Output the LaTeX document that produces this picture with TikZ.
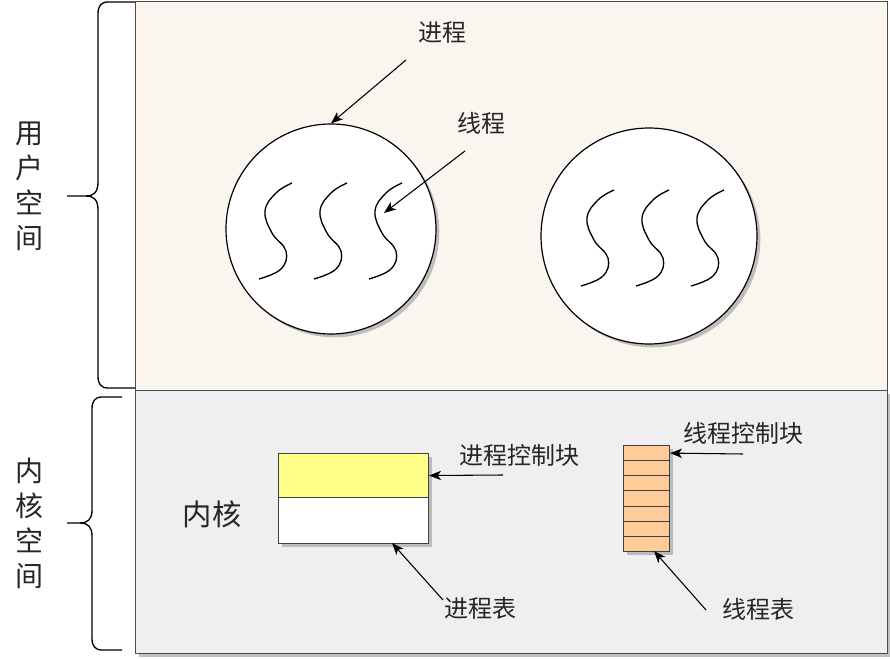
\documentclass[tikz,border=0pt]{standalone}
\usepackage{fontspec}
\newfontfamily\cjk{Noto Sans CJK SC}
\usetikzlibrary{arrows.meta,shadows}
\definecolor{userbg}{HTML}{FAF5EE}
\definecolor{kernbg}{HTML}{EFEEF0}
\definecolor{pcbyellow}{HTML}{FFFF88}
\definecolor{tcbpeach}{HTML}{FFCC99}
\begin{document}
\begin{tikzpicture}[x=0.75pt,y=-0.75pt,
  region/.style={draw=black!70, line width=0.8pt},
  shadowed/.style={drop shadow={shadow xshift=2.5pt,shadow yshift=-2.5pt,fill=black!40,opacity=0.6}},
  lbl/.style={font=\cjk\fontsize{18pt}{20pt}\selectfont, text=black!85, inner sep=0pt},
  biglbl/.style={font=\cjk\fontsize{21pt}{26.25pt}\selectfont, text=black!85, inner sep=0pt, align=center},
  arr/.style={-{Stealth[length=9pt,width=7pt,inset=2.5pt]}, line width=0.8pt},
  brace/.style={line width=1pt},
  wave/.style={line width=1pt},
  cell/.style={draw=black!75, line width=0.8pt, rectangle, inner sep=0pt, anchor=north west}
]
\useasboundingbox (0,0) rectangle (890,659);
\fill[white] (0,0) rectangle (890,659);

% regions
\node[region, fill=userbg, rectangle, inner sep=0pt, anchor=north west,
      minimum width=564pt, minimum height=291.75pt] (user) at (135,1) {};
\node[region, fill=kernbg, rectangle, inner sep=0pt, anchor=north west, shadowed,
      minimum width=564pt, minimum height=197.25pt] (kern) at (135,390) {};

% braces
\draw[brace] (135,2) -- (108,2) .. controls (101,2) and (98,6) .. (98,14) -- (98,182)
  .. controls (98,192) and (94,196) .. (86,196) -- (67,196);
\draw[brace] (86,196) .. controls (94,196) and (98,200) .. (98,210) -- (98,376)
  .. controls (98,384) and (101,388) .. (108,388) -- (135,388);
\draw[brace] (122,397) -- (102,397) .. controls (95,397) and (92,401) .. (92,409) -- (92,510)
  .. controls (92,519) and (88,523) .. (80,523) -- (67,523);
\draw[brace] (80,523) .. controls (88,523) and (92,527) .. (92,536) -- (92,638)
  .. controls (92,646) and (95,650) .. (102,650) -- (122,650);

% side labels
\node[biglbl] (ulbl) at (30,186) {用\\户\\空\\间};
\node[biglbl] (klbl) at (30,523) {内\\核\\空\\间};

% processes
\node[circle, draw=black, line width=0.9pt, fill=white, minimum size=157.5pt, inner sep=0pt, shadowed] (c1) at (331,229) {};
\node[circle, draw=black, line width=0.9pt, fill=white, minimum size=162pt, inner sep=0pt, shadowed] (c2) at (649,236) {};

% threads
\foreach \ox/\oy in {259/183, 314/183, 369/183, 581/190, 636/190, 691/190}{
  \draw[wave, shift={(\ox,\oy)}] plot[smooth, tension=0.7] coordinates
    {(33,0) (17,10) (6,28) (13,50) (27,68) (22,86) (0,96)};
}

% kernel label
\node[font=\cjk\fontsize{22pt}{24pt}\selectfont, text=black!85, inner sep=0pt] (kname) at (212,514) {内核};

% process table
\node[cell, fill=pcbyellow, minimum width=112.5pt, minimum height=33pt, shadowed] (ptop) at (278,453) {};
\node[cell, fill=white, minimum width=112.5pt, minimum height=34.5pt, shadowed] (pbot) at (278,497) {};

% thread table
\foreach \i in {1,...,7}{
  \node[cell, fill=tcbpeach, minimum width=34.5pt, minimum height=11.36pt, shadowed] (r\i) at (623,{445+15.14*(\i-1)}) {};
}

% labels
\node[lbl] (lproc) at (442,33) {进程};
\node[lbl] (lthr) at (481,123) {线程};
\node[lbl] (lpcb) at (519,455) {进程控制块};
\node[lbl] (lptab) at (480,608) {进程表};
\node[lbl] (ltcb) at (743,433) {线程控制块};
\node[lbl] (lttab) at (758,609) {线程表};

% arrow coordinates
\coordinate (a1) at (406,60);
\coordinate (a2) at (465,151);
\coordinate (t3) at (384,213);
\coordinate (a3) at (503,475);
\coordinate (a4) at (443,600);
\coordinate (p4) at (392,543);
\coordinate (a5) at (743,454);
\coordinate (a6) at (706,610);
\coordinate (t6) at (654,551);

\draw[arr] (a1) -- (c1.north);
\draw[arr] (a2) -- (t3);
\draw[arr] (a3) -- (ptop.east);
\draw[arr] (a4) -- (p4);
\draw[arr] (a5) -- (r1.east);
\draw[arr] (a6) -- (t6);
\end{tikzpicture}
\end{document}
